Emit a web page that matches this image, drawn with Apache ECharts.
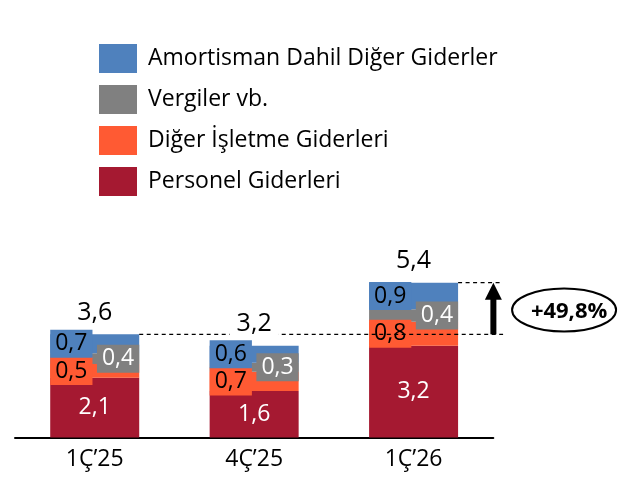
<!DOCTYPE html>
<html><head><meta charset="utf-8">
<script src="https://cdn.jsdelivr.net/npm/echarts@6/dist/echarts.min.js"></script>
<style>html,body{margin:0;padding:0;background:#fff}#c{width:618px;height:477px}</style>
</head><body><div id="c"></div>
<script>
const categories = ['1Ç’25', '4Ç’25', '1Ç’26'];
const personel = [2.08, 1.62, 3.20];
const digerIsletme = [0.48, 0.67, 0.84];
const vergiler = [0.38, 0.32, 0.43];
const amortisman = [0.66, 0.59, 0.93];
const totals = [3.6, 3.2, 5.4];
const changeLabel = '+49,8%';
const names = ['Personel Giderleri', 'Diğer İşletme Giderleri', 'Vergiler vb.', 'Amortisman Dahil Diğer Giderler'];
const colors = ['#A51931', '#FF5A33', '#808080', '#4F81BD'];

const FONT = '"Open Sans", sans-serif';
const fmt = v => v.toFixed(1).replace('.', ',');
const BAR_W = 89;

function barSeries(i, data, labelPos, labelColor, boxed) {
  return {
    name: names[i], type: 'bar', stack: 'total', data: data, barWidth: BAR_W,
    itemStyle: { color: colors[i] },
    silent: true,
    label: {
      show: true, position: labelPos, distance: 0, color: labelColor,
      fontFamily: FONT, fontSize: 23, lineHeight: 24,
      formatter: p => fmt(p.value),
      backgroundColor: boxed ? colors[i] : 'transparent',
      padding: boxed ? [2, 5, 2, 5] : 0
    }
  };
}

const chart = echarts.init(document.getElementById('c'), null, { renderer: 'canvas' });
chart.setOption({
  animation: false,
  backgroundColor: '#fff',
  legend: {
    data: [names[3], names[2], names[1], names[0]],
    orient: 'vertical', left: 99, top: 44, padding: 0,
    itemWidth: 38, itemHeight: 29, itemGap: 12, icon: 'rect',
    selectedMode: false,
    textStyle: { fontFamily: FONT, fontSize: 23, color: '#000', padding: [0, 0, 0, 6] }
  },
  grid: { left: 15, right: 124.7, top: 265.5, bottom: 39.5 },
  xAxis: {
    type: 'category', data: categories,
    axisLine: { lineStyle: { color: '#000', width: 2 } },
    axisTick: { show: false },
    axisLabel: { fontFamily: FONT, fontSize: 23, color: '#000', margin: 10 }
  },
  yAxis: { type: 'value', min: 0, max: 6, show: false, splitLine: { show: false } },
  series: [
    barSeries(0, personel, 'inside', '#fff', false),
    barSeries(1, digerIsletme, 'insideLeft', '#000', true),
    barSeries(2, vergiler, 'insideRight', '#fff', true),
    barSeries(3, amortisman, 'insideLeft', '#000', true),
    {
      type: 'custom', silent: true, z: 10, data: [[0]],
      renderItem: function (params, api) {
        const half = BAR_W / 2;
        const p = totals.map((t, i) => api.coord([i, t]));
        const lowY = p[0][1], highY = p[2][1];
        const right2 = p[2][0] + half;
        const xEnd = right2 + 45;
        const arrowX = right2 + 35.3;
        const dash = { stroke: '#000', lineWidth: 1.3, lineDash: [4, 3.5], fill: null };
        const children = [
          { type: 'line', shape: { x1: p[0][0] + half, y1: lowY, x2: xEnd, y2: lowY }, style: dash },
          { type: 'line', shape: { x1: right2, y1: highY, x2: xEnd, y2: highY }, style: dash },
          { type: 'rect', shape: { x: arrowX - 3, y: highY + 15, width: 6, height: lowY - highY - 15 }, style: { fill: '#000' } },
          { type: 'polygon', shape: { points: [[arrowX, highY], [arrowX - 8.5, highY + 17], [arrowX + 8.5, highY + 17]] }, style: { fill: '#000' } },
          { type: 'ellipse', shape: { cx: right2 + 106, cy: (lowY + highY) / 2 + 1.5, rx: 52, ry: 21.5 }, style: { fill: '#fff', stroke: '#000', lineWidth: 2 } },
          { type: 'text', style: { text: changeLabel, x: right2 + 111, y: (lowY + highY) / 2 + 3, align: 'center', verticalAlign: 'middle', font: 'bold 22px "Open Sans"', fill: '#000' } }
        ];
        p.forEach((pt, i) => {
          children.push({
            type: 'text',
            style: {
              text: fmt(totals[i]), x: pt[0], y: pt[1] - 21.5, align: 'center', verticalAlign: 'middle',
              font: '25px "Open Sans"', fill: '#000', backgroundColor: '#fff', padding: [0, 7]
            }
          });
        });
        return { type: 'group', children: children };
      }
    }
  ]
});
</script></body></html>
